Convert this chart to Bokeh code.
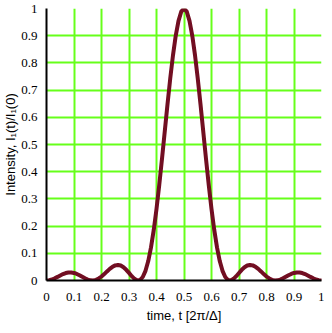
from bokeh.plotting import figure
from bokeh.models import FixedTicker, Range1d
from bokeh.embed import file_html
from bokeh.resources import INLINE

t = [0.00, 0.01, 0.02, 0.03, 0.04, 0.05, 0.06, 0.07, 0.08, 0.09,
     0.10, 0.11, 0.12, 0.13, 0.14, 0.15, 0.16, 0.17, 0.18, 0.19,
     0.20, 0.21, 0.22, 0.23, 0.24, 0.25, 0.26, 0.27, 0.28, 0.29,
     0.30, 0.31, 0.32, 0.33, 0.34, 0.35, 0.36, 0.37, 0.38, 0.39,
     0.40, 0.41, 0.42, 0.43, 0.44, 0.45, 0.46, 0.47, 0.48, 0.49,
     0.50, 0.51, 0.52, 0.53, 0.54, 0.55, 0.56, 0.57, 0.58, 0.59,
     0.60, 0.61, 0.62, 0.63, 0.64, 0.65, 0.66, 0.67, 0.68, 0.69,
     0.70, 0.71, 0.72, 0.73, 0.74, 0.75, 0.76, 0.77, 0.78, 0.79,
     0.80, 0.81, 0.82, 0.83, 0.84, 0.85, 0.86, 0.87, 0.88, 0.89,
     0.90, 0.91, 0.92, 0.93, 0.94, 0.95, 0.96, 0.97, 0.98, 0.99, 1.00]

intensity = [0.0, 0.0010, 0.0038, 0.0081, 0.0132, 0.0186, 0.0236, 0.0274, 0.0295, 0.0297,
             0.0278, 0.0241, 0.0191, 0.0134, 0.0079, 0.0033, 0.0006, 0.0002, 0.0024, 0.0074,
             0.0147, 0.0236, 0.0334, 0.0427, 0.0504, 0.0556, 0.0572, 0.0549, 0.0487, 0.0393,
             0.0278, 0.0159, 0.0060, 0.0004, 0.0019, 0.0129, 0.0356, 0.0716, 0.1217, 0.1859,
             0.2631, 0.3513, 0.4473, 0.5477, 0.6477, 0.7430, 0.8286, 0.9004, 0.9547, 0.9886,
             1.0, 0.9886, 0.9547, 0.9004, 0.8286, 0.7430, 0.6477, 0.5477, 0.4473, 0.3513,
             0.2631, 0.1859, 0.1217, 0.0716, 0.0356, 0.0129, 0.0019, 0.0004, 0.0060, 0.0159,
             0.0278, 0.0393, 0.0487, 0.0549, 0.0572, 0.0556, 0.0504, 0.0427, 0.0334, 0.0236,
             0.0147, 0.0074, 0.0024, 0.0002, 0.0006, 0.0033, 0.0079, 0.0134, 0.0191, 0.0241,
             0.0278, 0.0297, 0.0295, 0.0274, 0.0236, 0.0186, 0.0132, 0.0081, 0.0038, 0.0010, 0.0]

tick_values = [0.0, 0.1, 0.2, 0.3, 0.4, 0.5, 0.6, 0.7, 0.8, 0.9, 1.0]
tick_labels = ["0", "0.1", "0.2", "0.3", "0.4", "0.5", "0.6", "0.7", "0.8", "0.9", "1"]

x_title = "time, t [2\u03c0/\u0394]"
y_title = "Intensity, I\u2081(t)/I\u2081(0)"

p = figure(width=324, height=325, output_backend="svg", toolbar_location=None,
           x_range=Range1d(0, 1), y_range=Range1d(0, 1),
           min_border_left=32, min_border_right=3, min_border_top=8, min_border_bottom=38)
p.outline_line_color = None
p.background_fill_color = "white"
p.border_fill_color = "white"

for g in (p.xgrid[0], p.ygrid[0]):
    g.ticker = FixedTicker(ticks=tick_values)
    g.grid_line_color = "#66ff1a"
    g.grid_line_width = 2

overrides = {v: s for v, s in zip(tick_values, tick_labels)}
for ax in (p.xaxis[0], p.yaxis[0]):
    ax.ticker = FixedTicker(ticks=tick_values)
    ax.major_label_overrides = overrides
    ax.major_tick_line_color = None
    ax.minor_tick_line_color = None
    ax.axis_line_color = "black"
    ax.axis_line_width = 2
    ax.major_label_text_font = "Liberation Serif"
    ax.major_label_text_font_size = "13px"
    ax.major_label_text_color = "black"
    ax.axis_label_text_font = "Liberation Sans"
    ax.axis_label_text_font_size = "13px"
    ax.axis_label_text_font_style = "normal"
    ax.axis_label_text_color = "black"

p.xaxis[0].axis_label = x_title
p.yaxis[0].axis_label = y_title
p.xaxis[0].major_label_standoff = 6
p.yaxis[0].major_label_standoff = 3
p.xaxis[0].axis_label_standoff = 4
p.yaxis[0].axis_label_standoff = 0

p.line(t, intensity, line_color="#720e22", line_width=4, line_join="round", line_cap="round")

open("out.html", "w").write(file_html(p, INLINE))
